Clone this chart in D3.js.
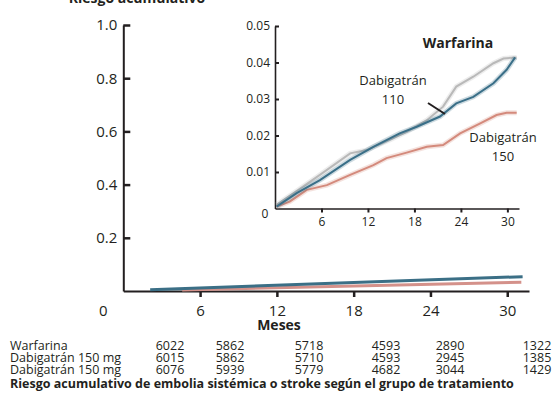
<!DOCTYPE html>
<html>
<head>
<meta charset="utf-8">
<script src="https://cdn.jsdelivr.net/npm/d3@7"></script>
<style>
  body { margin: 0; background: #fff; }
  svg { display: block; font-family: "Open Sans", sans-serif; }
  .axis path, .axis line { stroke: #231f20; }
  .axis text { fill: #231f20; }
</style>
</head>
<body>
<div id="chart"></div>
<script>
// Datos
const months = [0, 6, 12, 18, 24, 30];
const mainYTicks = [0.2, 0.4, 0.6, 0.8, 1.0];
const insetYTicks = [0.01, 0.02, 0.03, 0.04, 0.05];
const insetXTicks = [6, 12, 18, 24, 30];

// curvas del recuadro [mes, riesgo]
const warfarina = [[0.2, 0.001], [2.4, 0.0042], [5.8, 0.0092], [9.7, 0.0151], [11.8, 0.016], [14.8, 0.0188],
  [17, 0.021], [19.6, 0.0242], [21.7, 0.0279], [23.4, 0.0334], [25.6, 0.0361], [28.2, 0.0398], [29.5, 0.0411], [31.2, 0.0414]];
const dabi110 = [[0.2, 0.0005], [2.8, 0.0042], [5.8, 0.0078], [9.7, 0.0133], [12.7, 0.0169], [16.1, 0.0206],
  [18.3, 0.0224], [21.3, 0.0252], [23.4, 0.0288], [25.6, 0.0306], [28.2, 0.0343], [29.9, 0.038], [31, 0.0414]];
const dabi150 = [[0.2, 0.0005], [1.9, 0.0019], [4.1, 0.0051], [6.7, 0.0064], [9.7, 0.0092], [12.7, 0.0119],
  [14.4, 0.0138], [17, 0.0153], [19.6, 0.0169], [21.7, 0.0174], [23.9, 0.0206], [26.5, 0.0233], [28.6, 0.0256],
  [29.9, 0.0262], [31.2, 0.0262]];

// curvas del grafico grande
const mainBlue = [[2.1, 0.005], [31.2, 0.054]];
const mainRed = [[4.6, 0.004], [31.1, 0.033]];

// tabla de pacientes en riesgo
const rowNames = ["Warfarina", "Dabigatrán 150 mg", "Dabigatrán 150 mg"];
const atRisk = [
  [6022, 5862, 5718, 4593, 2890, 1322],
  [6015, 5862, 5710, 4593, 2945, 1385],
  [6076, 5939, 5779, 4682, 3044, 1429]
];

const W = 556, H = 403;
const colX = [170, 230, 309, 386, 450, 537];

const svg = d3.select("#chart").append("svg").attr("width", W).attr("height", H);

// titulo cortado arriba
svg.append("text")
  .attr("x", 137).attr("y", 3)
  .attr("text-anchor", "middle")
  .attr("font-size", 14).attr("font-weight", "700")
  .attr("fill", "#231f20")
  .text("Riesgo acumulativo");

// ---- grafico grande ----
const x = d3.scaleLinear().domain([0, 31.7]).range([123.3, 529]);
const y = d3.scaleLinear().domain([0, 1]).range([291, 25]);

svg.append("g")
  .attr("class", "axis")
  .attr("transform", `translate(0,${y(0)})`)
  .call(d3.axisBottom(x).tickValues(months.slice(1)).tickSizeInner(6).tickSizeOuter(0).tickPadding(8))
  .call(g => g.select(".domain").attr("stroke-width", 2))
  .call(g => g.selectAll(".tick line").attr("stroke-width", 2.5))
  .call(g => g.selectAll("text").attr("font-size", 15).attr("font-family", "Open Sans"));

svg.append("g")
  .attr("class", "axis")
  .attr("transform", `translate(${x(0)},0)`)
  .call(d3.axisLeft(y).tickValues(mainYTicks).tickFormat(d3.format(".1f")).tickSizeInner(-7).tickSizeOuter(0).tickPadding(6))
  .call(g => g.select(".domain").attr("stroke-width", 2))
  .call(g => g.selectAll(".tick line").attr("stroke-width", 2.5))
  .call(g => g.selectAll("text").attr("font-size", 15).attr("font-family", "Open Sans"));

// "0" del origen
svg.append("text")
  .attr("x", x(0) - 20).attr("y", 311)
  .attr("dy", "0.35em")
  .attr("text-anchor", "middle")
  .attr("font-size", 15).attr("fill", "#231f20")
  .text("0");

const mainLine = d3.line().x(d => x(d[0])).y(d => y(d[1]));

svg.append("path").datum(mainRed)
  .attr("d", mainLine).attr("fill", "none")
  .attr("stroke", "#d4918a").attr("stroke-width", 3);
svg.append("path").datum(mainBlue)
  .attr("d", mainLine).attr("fill", "none")
  .attr("stroke", "#3b6f86").attr("stroke-width", 3);

svg.append("text")
  .attr("x", 279).attr("y", 325)
  .attr("dy", "0.35em")
  .attr("text-anchor", "middle")
  .attr("font-size", 14).attr("font-weight", "700").attr("fill", "#231f20")
  .text("Meses");

// ---- recuadro ----
const xi = d3.scaleLinear().domain([0, 31.5]).range([275, 519]);
const yi = d3.scaleLinear().domain([0, 0.05]).range([208.5, 26]);

svg.append("g")
  .attr("class", "axis")
  .attr("transform", `translate(0,${yi(0)})`)
  .call(d3.axisBottom(xi).tickValues(insetXTicks).tickSizeInner(4).tickSizeOuter(0).tickPadding(5))
  .call(g => g.select(".domain").attr("stroke-width", 1.6))
  .call(g => g.selectAll(".tick line").attr("stroke-width", 2))
  .call(g => g.selectAll("text").attr("font-size", 12).attr("font-family", "Open Sans"));

svg.append("g")
  .attr("class", "axis")
  .attr("transform", `translate(${xi(0)},0)`)
  .call(d3.axisLeft(yi).tickValues(insetYTicks).tickFormat(d3.format(".2f")).tickSizeInner(-4).tickSizeOuter(0).tickPadding(5))
  .call(g => g.select(".domain").attr("stroke-width", 1.6))
  .call(g => g.selectAll(".tick line").attr("stroke-width", 2))
  .call(g => g.selectAll("text").attr("font-size", 12).attr("font-family", "Open Sans"));

svg.append("text")
  .attr("x", 265).attr("y", 214)
  .attr("dy", "0.35em")
  .attr("text-anchor", "middle")
  .attr("font-size", 12).attr("fill", "#231f20")
  .text("0");

const insetLine = d3.line().x(d => xi(d[0])).y(d => yi(d[1]));
const series = [
  { data: warfarina, color: "#b9b9b9" },
  { data: dabi150, color: "#d48a7c" },
  { data: dabi110, color: "#3a6f88" }
];

series.forEach(s => {
  svg.append("path").datum(s.data)
    .attr("d", insetLine).attr("fill", "none")
    .attr("stroke", s.color).attr("stroke-opacity", 0.25).attr("stroke-width", 5);
  svg.append("path").datum(s.data)
    .attr("d", insetLine).attr("fill", "none")
    .attr("stroke", s.color).attr("stroke-width", 2);
});

// etiquetas del recuadro
svg.append("text")
  .attr("x", 458).attr("y", 43).attr("dy", "0.35em")
  .attr("text-anchor", "middle")
  .attr("font-size", 14).attr("font-weight", "700").attr("fill", "#231f20")
  .text("Warfarina");

const lbl = (tx, ty, t) => svg.append("text")
  .attr("x", tx).attr("y", ty).attr("dy", "0.35em")
  .attr("text-anchor", "middle")
  .attr("font-size", 13).attr("fill", "#231f20")
  .text(t);
lbl(393, 80, "Dabigatrán");
lbl(393, 99, "110");
lbl(503, 137, "Dabigatrán");
lbl(503, 156, "150");

svg.append("line")
  .attr("x1", 428).attr("y1", 103).attr("x2", 445).attr("y2", 114)
  .attr("stroke", "#231f20").attr("stroke-width", 2);

// ---- tabla ----
const rowY = [346, 358, 370];
rowNames.forEach((name, i) => {
  svg.append("text")
    .attr("x", 10).attr("y", rowY[i]).attr("dy", "0.35em")
    .attr("font-size", 12.5).attr("fill", "#231f20")
    .text(name);
  svg.append("g").selectAll("text")
    .data(atRisk[i])
    .join("text")
    .attr("x", (d, j) => colX[j])
    .attr("y", rowY[i]).attr("dy", "0.35em")
    .attr("text-anchor", "middle")
    .attr("font-size", 12.5).attr("fill", "#231f20")
    .text(d => d);
});

svg.append("text")
  .attr("x", 10).attr("y", 384).attr("dy", "0.35em")
  .attr("font-size", 12.5).attr("font-weight", "700").attr("fill", "#231f20")
  .text("Riesgo acumulativo de embolia sistémica o stroke según el grupo de tratamiento");
</script>
</body>
</html>
